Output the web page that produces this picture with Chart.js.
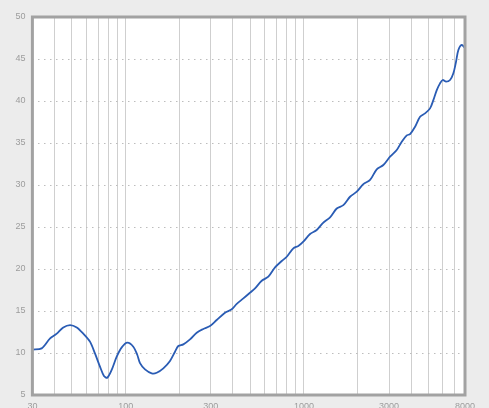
<!DOCTYPE html>
<html><head><meta charset="utf-8">
<script src="https://cdn.jsdelivr.net/npm/chart.js@4"></script>
<style>html,body{margin:0;padding:0;background:#ececec;overflow:hidden}canvas{display:block}</style>
</head><body>
<canvas id="c" width="489" height="408"></canvas>
<script>
const frequencies = [30, 33.8, 37.7, 41.1, 44.7, 48.8, 53.2, 57.9, 63.1, 67.3, 71.8, 75.6, 78.9, 83.5, 89.1, 95.1, 102.2, 110.4, 116.3, 120.4, 128.4, 140.1, 149.4, 162.7, 177.3, 189.2, 197.4, 210.6, 229.6, 250.4, 272.7, 297.3, 324.1, 360.8, 393.6, 419.8, 457.3, 498.4, 531.7, 579.7, 631.5, 688.3, 750.3, 800.6, 871.8, 929.8, 991.9, 1082, 1179, 1280, 1401, 1527, 1663, 1813, 1977, 2153, 2348, 2559, 2787, 3039, 3313, 3535, 3772, 3936, 4198, 4478, 4776, 5094, 5316, 5556, 5796, 6003, 6264, 6597, 6884, 7129, 7344, 7674, 8000];
const levels = [10.4, 10.55, 11.75, 12.3, 13.05, 13.33, 13.05, 12.3, 11.35, 9.95, 8.37, 7.26, 7.06, 7.98, 9.56, 10.67, 11.23, 10.75, 9.76, 8.8, 8.05, 7.58, 7.65, 8.17, 9.05, 10.15, 10.83, 11.03, 11.62, 12.42, 12.86, 13.21, 13.93, 14.8, 15.2, 15.85, 16.5, 17.18, 17.7, 18.6, 19.08, 20.19, 20.95, 21.46, 22.46, 22.74, 23.25, 24.17, 24.64, 25.5, 26.15, 27.2, 27.6, 28.6, 29.2, 30.1, 30.6, 31.87, 32.38, 33.37, 34.17, 35.15, 35.9, 36.07, 36.94, 38.13, 38.52, 39.12, 40.1, 41.3, 42.1, 42.5, 42.3, 42.5, 43.3, 44.7, 46.07, 46.67, 46.27];
const xGridValues = [30, 40, 50, 60, 70, 80, 90, 100, 200, 300, 400, 500, 600, 700, 800, 900, 1000, 2000, 3000, 4000, 5000, 6000, 7000, 8000];
const xTickLabels = [30, 100, 300, 1000, 3000, 8000];
const yMin = 5, yMax = 50, yStep = 5;

const frame = {
  id: 'frame',
  beforeDraw(chart) {
    const {ctx, chartArea: a} = chart;
    ctx.save();
    ctx.fillStyle = '#ececec';
    ctx.fillRect(0, 0, chart.width, chart.height);
    ctx.fillStyle = '#ffffff';
    ctx.fillRect(a.left, a.top, a.right - a.left, a.bottom - a.top);
    ctx.restore();
  },
  afterDatasetsDraw(chart) {
    const {ctx, chartArea: a} = chart;
    ctx.save();
    ctx.strokeStyle = '#a2a2a2';
    ctx.lineWidth = 3;
    ctx.strokeRect(a.left, a.top, a.right - a.left, a.bottom - a.top);
    ctx.restore();
  }
};

const tickFont = {family: "'Liberation Sans Narrow', 'Liberation Sans', sans-serif", size: 9};

new Chart(document.getElementById('c'), {
  type: 'line',
  data: {
    datasets: [{
      data: frequencies.map((f, i) => ({x: f, y: levels[i]})),
      borderColor: '#2a5cb4',
      borderWidth: 1.8,
      pointRadius: 0,
      tension: 0.3,
      fill: false
    }]
  },
  options: {
    responsive: false,
    animation: false,
    devicePixelRatio: 1,
    layout: {padding: {left: 0, top: 17, right: 24, bottom: 0}},
    plugins: {legend: {display: false}, tooltip: {enabled: false}},
    scales: {
      x: {
        type: 'logarithmic',
        min: 30,
        max: 8000,
        afterBuildTicks: s => { s.ticks = xGridValues.map(v => ({value: v})); },
        afterFit: s => { s.height = 13; },
        grid: {color: '#cfcfcf', lineWidth: 1, drawTicks: false},
        border: {display: false},
        ticks: {
          autoSkip: false, maxRotation: 0, padding: 6,
          color: '#9c9c9c', font: tickFont,
          callback: v => xTickLabels.includes(v) ? String(v) : ''
        }
      },
      y: {
        min: yMin,
        max: yMax,
        afterFit: s => { s.width = 32.4; },
        grid: {color: '#bdbdbd', lineWidth: 1, drawTicks: false},
        border: {display: false, dash: [1.5, 4.5]},
        ticks: {stepSize: yStep, padding: 7, color: '#9c9c9c', font: tickFont}
      }
    }
  },
  plugins: [frame]
});
</script>
</body></html>
